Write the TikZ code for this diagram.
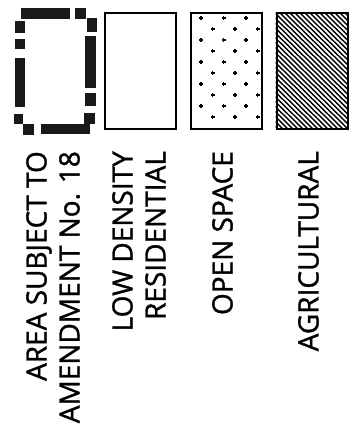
\documentclass[tikz,border=0pt]{standalone}
\usepackage{fontspec}
\setmainfont{Open Sans}
\newfontfamily\legendfont[FakeBold=1.2]{Open Sans}
\usetikzlibrary{positioning}

\tikzset{
  legbox/.style={draw,line width=2pt,minimum width=71pt,minimum height=116pt,inner sep=0pt},
  leglabel/.style={rotate=90,anchor=north east,align=right,inner sep=0pt,
    font=\legendfont\fontsize{28}{33}\selectfont},
  dashpiece/.style={fill=black!90},
}

\begin{document}
\begin{tikzpicture}[x=1pt,y=-1pt]
  \useasboundingbox (0,0) rectangle (350,433);

  % area subject to amendment
  \foreach \xa/\ya/\xb/\yb in {21/8/70/19, 75/8/86/19,
      87/18/97/32, 85/36/96/88, 85/93/96/106, 84/113/95/124,
      23/124/34/135, 41/124/90/134,
      15/21/25/33, 15/39/25/49, 15/58/25/107, 14/114/23/124} {
    \fill[dashpiece] (\xa,\ya) rectangle (\xb,\yb);
  }

  % low density residential
  \node[legbox] (lowres) at (140.5,71) {};

  % open space
  \node[legbox] (openspace) at (226,71) {};
  \foreach \k in {0,...,9} {
    \pgfmathsetmacro{\yy}{18+11*\k}
    \pgfmathsetmacro{\dx}{mod(\k,2)*11.5}
    \foreach \xx in {201,223.5,246} {
      \draw[line width=1.2pt] (\xx+\dx-2,\yy) -- ++(4,0)
        (\xx+\dx,\yy-2) -- ++(0,4);
    }
  }

  % agricultural
  \node[legbox] (agri) at (312,71) {};
  \begin{scope}
    \clip (agri.south west) rectangle (agri.north east);
    \foreach \h in {-130,-125,...,350} {
      \draw[line width=1.4pt] (\h,13) -- ++(118,116);
    }
  \end{scope}
  \node[legbox] at (agri) {};

  \node[leglabel] (areatext) at (26,151) {AREA SUBJECT TO\\AMENDMENT No. 18};
  \node[leglabel] (lowrestext) at (112,151) {LOW DENSITY\\RESIDENTIAL};
  \node[leglabel] (opentext) at (212,151) {OPEN SPACE};
  \node[leglabel] (agritext) at (298,151) {AGRICULTURAL};
\end{tikzpicture}
\end{document}
